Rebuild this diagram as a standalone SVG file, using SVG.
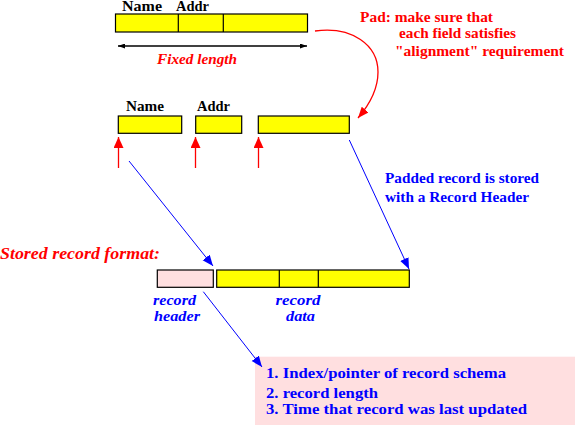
<svg xmlns="http://www.w3.org/2000/svg" width="575" height="425" viewBox="0 0 575 425">
<defs>
<style>
text{font-family:'Liberation Serif','DejaVu Serif','Times New Roman',serif;font-weight:bold}
.field{fill:#ffff00;stroke:#000;stroke-width:1.2}
.hdr{fill:#ffdfe0;stroke:#000;stroke-width:1.2}
.lbl{font-size:14px;fill:#000}
.red{font-size:14px;fill:#ff0000}
.redi{font-style:italic;fill:#ff0000}
.blue{font-size:14px;fill:#0000ff}
.bluei{font-style:italic;font-size:15px;fill:#0000ff}
.bl{stroke:#0000ff;stroke-width:1;fill:none}
.rl{stroke:#ff0000;stroke-width:1.3;fill:none}
</style>
<marker id="ab" markerUnits="userSpaceOnUse" markerWidth="12" markerHeight="10" refX="11" refY="4.5" orient="auto"><path d="M0,0 L11,4.5 L0,9 z" fill="#0000ff"/></marker>
<marker id="ar" markerUnits="userSpaceOnUse" markerWidth="12" markerHeight="10" refX="11" refY="4.5" orient="auto"><path d="M0,0 L11,4.5 L0,9 z" fill="#ff0000"/></marker>
<marker id="arb" markerUnits="userSpaceOnUse" markerWidth="12" markerHeight="11" refX="11" refY="5" orient="auto"><path d="M0,0 L11,5 L0,10 z" fill="#ff0000"/></marker>
<marker id="ak" markerUnits="userSpaceOnUse" markerWidth="8" markerHeight="6" refX="7" refY="2.5" orient="auto"><path d="M0,0 L7,2.5 L0,5 z" fill="#000"/></marker>
<marker id="aks" markerUnits="userSpaceOnUse" markerWidth="8" markerHeight="6" refX="0" refY="2.5" orient="auto"><path d="M7,0 L0,2.5 L7,5 z" fill="#000"/></marker>
</defs>
<rect width="575" height="425" fill="#fff"/>

<g id="fixed-record">
<rect class="field" x="115.5" y="14" width="192" height="18"/>
<line x1="178.3" y1="14" x2="178.3" y2="32" stroke="#000" stroke-width="1.2"/>
<line x1="223.3" y1="14" x2="223.3" y2="32" stroke="#000" stroke-width="1.2"/>
<text class="lbl" x="122" y="11" font-size="13" textLength="40" lengthAdjust="spacingAndGlyphs">Name</text>
<text class="lbl" x="176" y="11" font-size="13" textLength="33" lengthAdjust="spacingAndGlyphs">Addr</text>
</g>

<g id="fixed-length">
<line x1="118" y1="46" x2="307" y2="46" stroke="#000" stroke-width="1.3" marker-start="url(#aks)" marker-end="url(#ak)"/>
<text class="redi" x="157" y="64" font-size="14" textLength="80" lengthAdjust="spacingAndGlyphs">Fixed length</text>
</g>

<g id="pad-note">
<text class="red" x="360" y="22" textLength="133" lengthAdjust="spacingAndGlyphs">Pad: make sure that</text>
<text class="red" x="399" y="38" textLength="117" lengthAdjust="spacingAndGlyphs">each field satisfies</text>
<text class="red" x="395" y="56" textLength="169" lengthAdjust="spacingAndGlyphs">"alignment" requirement</text>
</g>

<g id="padded-record">
<rect class="field" x="118.3" y="116" width="63.4" height="17.3"/>
<rect class="field" x="195.7" y="116" width="46" height="17.3"/>
<rect class="field" x="258.3" y="116" width="91" height="17.3"/>
<text class="lbl" x="126" y="111" textLength="38" lengthAdjust="spacingAndGlyphs">Name</text>
<text class="lbl" x="197" y="111" textLength="33" lengthAdjust="spacingAndGlyphs">Addr</text>
</g>

<g id="padded-note">
<text class="blue" x="385" y="183" textLength="154" lengthAdjust="spacingAndGlyphs">Padded record is stored</text>
<text class="blue" x="385" y="202" textLength="144" lengthAdjust="spacingAndGlyphs">with a Record Header</text>
</g>

<g id="stored-title">
<text class="redi" x="0" y="259" font-size="17" textLength="160" lengthAdjust="spacingAndGlyphs">Stored record format:</text>
</g>

<g id="stored-record">
<rect class="hdr" x="157.3" y="270" width="56" height="17.3"/>
<rect class="field" x="216.7" y="270" width="192.6" height="17.3"/>
<line x1="279.3" y1="270" x2="279.3" y2="287.3" stroke="#000" stroke-width="1.2"/>
<line x1="318.3" y1="270" x2="318.3" y2="287.3" stroke="#000" stroke-width="1.2"/>
<text class="bluei" x="153" y="305" textLength="43" lengthAdjust="spacingAndGlyphs">record</text>
<text class="bluei" x="154" y="321" textLength="46" lengthAdjust="spacingAndGlyphs">header</text>
<text class="bluei" x="275.5" y="305" textLength="45" lengthAdjust="spacingAndGlyphs">record</text>
<text class="bluei" x="286" y="321" textLength="29" lengthAdjust="spacingAndGlyphs">data</text>
</g>

<g id="header-contents">
<rect x="255" y="356.7" width="320" height="68.3" fill="#ffdfe0"/>
<text class="blue" x="266" y="378" font-size="15" textLength="240" lengthAdjust="spacingAndGlyphs">1. Index/pointer of record schema</text>
<text class="blue" x="266" y="398" font-size="15" textLength="112" lengthAdjust="spacingAndGlyphs">2. record length</text>
<text class="blue" x="266" y="414" font-size="15" textLength="261" lengthAdjust="spacingAndGlyphs">3. Time that record was last updated</text>
</g>

<g id="connectors">
<path class="rl" d="M315,31 C352,26 378,45 378,72 C378,90 370,104 358,118" marker-end="url(#ar)"/>
<line x1="118.5" y1="168" x2="118.5" y2="137" stroke="#ff0000" stroke-width="1.3" marker-end="url(#arb)"/>
<line x1="195.5" y1="168" x2="195.5" y2="137" stroke="#ff0000" stroke-width="1.3" marker-end="url(#arb)"/>
<line x1="258.5" y1="168" x2="258.5" y2="137" stroke="#ff0000" stroke-width="1.3" marker-end="url(#arb)"/>
<line class="bl" x1="129" y1="161" x2="213" y2="266" marker-end="url(#ab)"/>
<line class="bl" x1="349.3" y1="140" x2="409" y2="269" marker-end="url(#ab)"/>
<line class="bl" x1="203.3" y1="291.7" x2="262" y2="367" marker-end="url(#ab)"/>
</g>
</svg>
